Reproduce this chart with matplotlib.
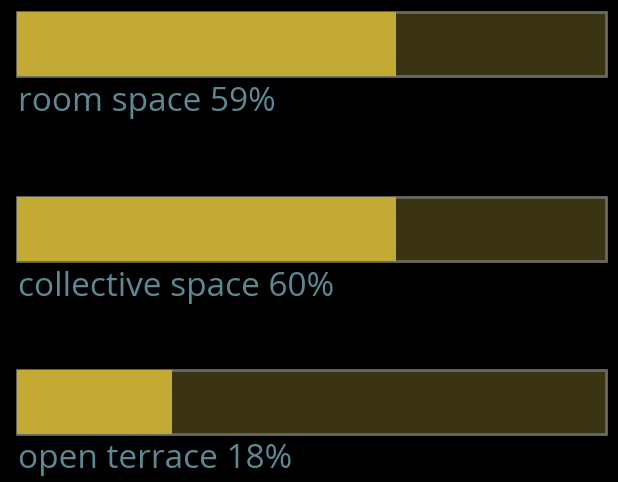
import numpy as np
import matplotlib.pyplot as plt

labels = ["room space", "collective space", "open terrace"]
percents = [59, 60, 18]
# fill length as drawn in the picture (share of the track, in %)
fill = [64.3, 64.3, 26.3]

ypos = [44, 228.5, 401.5]   # bar centres in pixel rows
bar_h = 64

fig = plt.figure(figsize=(6.18, 4.82), dpi=100, facecolor="black")
ax = fig.add_axes([0, 0, 1, 1])
ax.set_facecolor("black")

# grey track with dark olive fill
ax.barh(ypos, [100] * 3, height=bar_h, color="#3a3412", edgecolor="#6a6a62", linewidth=2)
ax.barh(ypos, fill, height=bar_h, color="#c3aa34", edgecolor="none")

for y, lab, p in zip(ypos, labels, percents):
    ax.text(0.1, y + bar_h / 2 + 35, f"{lab} {p}%", color="#5e8893", fontsize=24,
            family="Open Sans", va="baseline", ha="left")

ax.set_xlim(-17 / 5.89, 100 + 12 / 5.89)
ax.set_ylim(482, 0)
ax.axis("off")

fig.savefig("out.png", dpi=100, facecolor="black")
